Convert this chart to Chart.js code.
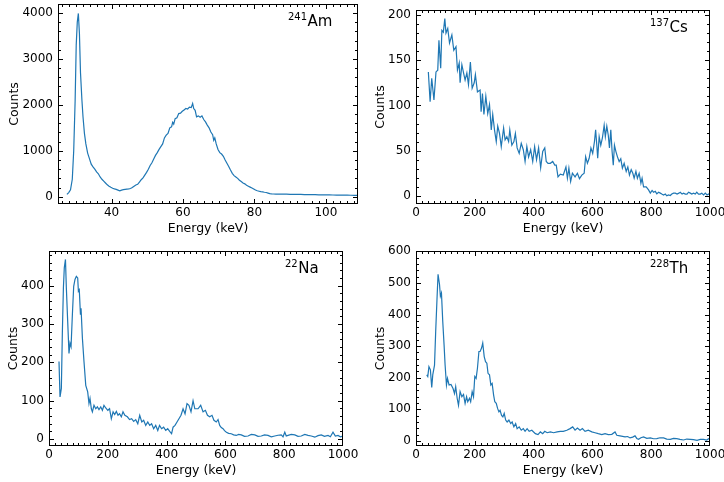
<!DOCTYPE html>
<html>
<head>
<meta charset="utf-8">
<script src="https://cdn.jsdelivr.net/npm/chart.js@4.4.1/dist/chart.umd.min.js"></script>
<style>
  html, body { margin: 0; padding: 0; background: #fff; }
  #wrap { position: relative; width: 724px; height: 482px; overflow: hidden; }
  .panel { position: absolute; width: 362px; height: 241px; }
  canvas { display: block; }
</style>
</head>
<body>
<div id="wrap">
  <div class="panel" style="left:0;top:0"><canvas id="c1" width="362" height="241"></canvas></div>
  <div class="panel" style="left:362px;top:0"><canvas id="c2" width="362" height="241"></canvas></div>
  <div class="panel" style="left:0;top:241px"><canvas id="c3" width="362" height="241"></canvas></div>
  <div class="panel" style="left:362px;top:241px"><canvas id="c4" width="362" height="241"></canvas></div>
</div>
<script>
// ---------------- DATA ----------------
// 241Am spectrum
const amEnergy = [27.5,28.0,28.5,29.0,29.4,29.8,30.1,30.4,30.7,31.0,31.3,31.7,32.0,32.4,32.8,33.3,33.8,34.3,34.8,35.3,35.8,36.3,36.8,37.3,37.8,38.3,38.8,39.3,39.8,40.3,40.8,41.3,41.8,42.3,42.8,43.3,43.8,44.3,44.8,45.3,45.8,46.3,46.8,47.3,47.8,48.3,48.8,49.3,49.8,50.3,50.8,51.3,51.8,52.3,52.8,53.3,53.8,54.3,54.8,55.3,55.8,56.3,56.8,57.1,57.4,57.8,58.3,58.8,59.3,59.8,60.3,60.8,61.3,61.8,62.3,62.7,63.0,63.4,63.8,64.3,64.8,65.3,65.8,66.3,66.8,67.3,67.8,68.3,68.6,68.9,69.3,69.8,70.3,70.8,71.3,71.8,72.3,72.8,73.3,73.8,74.3,74.8,75.3,75.8,76.3,76.8,77.3,77.8,78.3,78.8,79.3,79.8,80.3,80.8,81.3,81.8,82.3,82.8,83.3,83.8,84.3,84.8,85.3,86,87,88,89,90,91,92,93,94,95,96,97,98,99,100,101,102,103,104,105,106,107,108,109];
const amCounts = [50,90,150,380,1000,2100,3300,3800,3990,3550,2700,2100,1740,1380,1150,950,830,710,650,600,540,500,430,380,340,300,260,230,205,185,170,160,145,130,145,155,160,165,170,180,200,230,255,270,320,370,410,470,530,600,680,740,820,900,960,1030,1090,1150,1280,1340,1380,1500,1520,1620,1580,1700,1720,1810,1820,1860,1890,1920,1910,1950,1940,2030,1920,1880,1740,1760,1730,1760,1680,1630,1560,1500,1410,1350,1230,1280,1150,1030,960,930,880,800,730,660,580,510,460,430,400,360,330,300,280,250,230,210,190,170,145,130,120,110,105,98,92,80,68,62,60,58,57,55,55,53,52,50,50,48,47,45,44,42,41,40,39,38,36,35,34,33,32,31,30];

// 137Cs spectrum
const csEnergy = [42,48,53.5,61,68,74,78,84,88,93,98,102,108,114,122,128.5,136,141,147,150,156,161,167,173,178.5,185,191,198,202,209,218,221.5,226,231,237.5,244,250,256,261,267,273,278,284,290,298,303,309,315,319,326,333,338,344,351,358,365,371,377,383,390,397,403.5,410,417,424,431,438,443,449,457,465,472,477,483,491,501,510,515,520,526,532,541,549,556,564,572,577,583,589,595,601,607,611,615,618,623,628.5,634,640,644,649,654,658,662.6,667,671,675,680,685,691,696.5,702,708,715,720.5,726,732,737.5,742,748,753,759,765,769,774,783,791,797,803,808,814,819,825,831,836,842,848,853,859,865,870,876,882,888,894,899,905,910,916,922,927,933,938,944,950,955,961,967,972,978,984,990,995,1000];
const csCounts = [137,104,130,106,137,139,172,141,183,181,196,180,185,169,178,161,165,139,147,125,145,137,128,136,123,148,119,125,134,115,117,93,113,90,110,91,101,73,90,73,60,77,69,54.5,75,62,65.5,60,73,56,60,69,53,47,58,51,38,54.5,43,51,38,54.5,40,53,31,49,53,38,36,36,38,34,34,21,24,23,32,19.5,30.6,15.8,25,21,25,19,23,25,43.4,36,41.6,53,47,60,73,56,41.6,65.5,56,64,78,65.5,77,67,53,73,49,34,56,49,43.4,38,41,30.6,36,27,32,23,29,25,19.5,27,19.5,25,14,19.5,10,10,6.6,3,6,4,5,2.2,4,3,2,1,2,0,1,0.4,2,3,3,2,3,4,2,3,2,2,4,3,2,3,2,4,2,2,3,1,3,1,2,1];

// 22Na spectrum
const naEnergy = [34,37.5,42,45.5,49,52,56,59,63.6,68,71.5,75,79.5,84,88.4,93,97.6,100,103,107,109,113.6,119,125,131.6,136,139.5,144,147.6,153,159,164.5,170,176,181.6,187,193,200,206,212,218,223.5,229,234.7,240,246,251.7,258,266.6,274,281,288,295,302,308.6,315.6,322,329,336,342.5,349,356,363,370,376,383,390,397,403.7,410.5,417,422,428.6,435.4,442,449,456,462.7,469.4,476,483,490,496,507,516,524,532,539,546.6,554.4,561,569,575,580.6,586,592,597,603.4,611,620,628,637,645,654,665,677,688,700,711,722,733,745,756,768,779,790,796,802,807,813,824,836,847,858,870,881,892,904,915,926,937,949,957,966,974,983,991,1000];
const naCounts = [202,110,132,280,394,446,468,394,306,223,250,241,324,398,416,424,420,385,389,324,341,263,202,140,123,92.5,106,79,71,88,79,84,77,84,75,88,81,75,79,53,71,64,72,62,66,58,71,62,58,51,53,46,50.6,40,62,44.5,49,35.6,44.5,35.6,40,27,35.6,22.5,35.6,27,31,22.5,27,20,14,31,35.6,44.5,53,62,79,66,92.5,88,71,100,79,79,88,71,75,62,58,62,49,44.5,51,35.6,30,27,22,18,15,14,11,9.5,12,11,7,8,12,11,7,8,11,9.5,6,8,10,11,6,18,8,9.5,12,11,7,8,12,9.5,8,5,9,11,7,9.5,6,18,8,9.5,6,8];

// 228Th spectrum
const thEnergy = [36.5,40,44,49,53.5,57,63,67,71.6,75,80,83,86.6,91,95.5,99,103.6,107,112.5,119,126,131,135,140,144.5,150,156,161.6,167,172,176,182,186,191,195.6,200,204.5,209,214,218,223,227,232,236.5,241,245,250,254.6,259,264,268,273,277.5,282,286,291,295.5,300,305,310,316,322,327,333,339,344,351,358,365,371,378,385,394,406,415,423,431,438,446,457,468,480,491,501,513,524,533,541,549,558,566,575,586,598,609,620,632,643,654,666,677,683,694,711,720,728,737,745,751,757,765,774,785,797,808,819,830,842,853,865,876,887,898,910,921,933,944,956,967,978,989,995,1000];
const thCounts = [209,204,235,225,169,209,240,347,453,527,495,458,468,378,304,240,177,198,177,179,166,150,172,135,113,156,140,147,119,140,124,135,124,156,140,204,198,230,283,283,294,310,267,251,246,214,209,177,182,145,124,119,103,92,97,81,76,87,66,60,66,55,60,44.5,55,39,44.5,34,39,30.5,39,30.5,34,23,20,28.6,23,30.5,26,28.6,26,28.6,30.5,30.5,34,39,44.5,34,41,34,39,30.5,34,28.6,26,23,20,23,20,21,28.6,18,16,12.7,14,9.5,12,16,8,5,10,12.7,8,9.5,7,7.3,10,9.5,6,5,8,7.3,5,3,6,5,4,2,5,5,3,7,5];

// tick values (labels are these numbers)
const amXTicks = [40, 60, 80, 100];
const amYTicks = [0, 1000, 2000, 3000, 4000];
const keVTicks = [0, 200, 400, 600, 800, 1000];
const csYTicks = [0, 50, 100, 150, 200];
const naYTicks = [0, 100, 200, 300, 400];
const thYTicks = [0, 100, 200, 300, 400, 500, 600];

// ---------------- CHART SETUP ----------------
const FONT = 'DejaVu Sans';
const LINE_COLOR = '#1f77b4';

const framePlugin = {
  id: 'frameTicks',
  afterDraw(chart, args, o) {
    const { ctx, chartArea: a, scales: { x, y } } = chart;
    const L = Math.round(a.left) + 0.5, R = Math.round(a.right) - 0.5;
    const T = Math.round(a.top) + 0.5, B = Math.round(a.bottom) - 0.5;
    ctx.save();
    ctx.strokeStyle = '#000';
    ctx.lineWidth = 1;
    const tick = (vals, len, horiz) => {
      ctx.beginPath();
      vals.forEach(v => {
        if (horiz) {
          const px = Math.round(x.getPixelForValue(v)) + 0.5;
          if (px < L - 0.1 || px > R + 0.1) return;
          ctx.moveTo(px, B); ctx.lineTo(px, B - len);
          ctx.moveTo(px, T); ctx.lineTo(px, T + len);
        } else {
          const py = Math.round(y.getPixelForValue(v)) + 0.5;
          if (py < T - 0.1 || py > B + 0.1) return;
          ctx.moveTo(L, py); ctx.lineTo(L + len, py);
          ctx.moveTo(R, py); ctx.lineTo(R - len, py);
        }
      });
      ctx.stroke();
    };
    const minorVals = (min, max, step) => {
      const out = [];
      for (let v = Math.ceil(min / step) * step; v <= max + 1e-9; v += step) out.push(v);
      return out;
    };
    tick(minorVals(x.min, x.max, o.xMinor), 2.5, true);
    tick(minorVals(y.min, y.max, o.yMinor), 2.5, false);
    tick(x.ticks.map(t => t.value), 4.5, true);
    tick(y.ticks.map(t => t.value), 4.5, false);
    ctx.strokeRect(L, T, R - L, B - T);
    // isotope label
    const lx = a.left + o.labelDx, ly = a.top + 22;
    ctx.fillStyle = '#000';
    ctx.textBaseline = 'alphabetic';
    ctx.textAlign = 'left';
    ctx.font = '10px "' + FONT + '"';
    ctx.fillText(o.sup, lx, ly - 6);
    const w = ctx.measureText(o.sup).width;
    ctx.font = '15px "' + FONT + '"';
    ctx.fillText(o.main, lx + w + 0.5, ly);
    ctx.restore();
  }
};

function makeChart(id, xs, ys, c) {
  const pts = xs.map((v, i) => ({ x: v, y: ys[i] }));
  const tickFont = { family: FONT, size: 12 };
  const titleFont = { family: FONT, size: 12.5 };
  return new Chart(document.getElementById(id), {
    type: 'line',
    data: { datasets: [{ data: pts, borderColor: LINE_COLOR, borderWidth: 1.2, pointRadius: 0, tension: 0, fill: false }] },
    options: {
      responsive: false,
      animation: false,
      devicePixelRatio: 1,
      layout: { padding: { top: c.padTop, right: c.padRight, left: 0, bottom: 0 } },
      plugins: {
        legend: { display: false },
        tooltip: { enabled: false },
        frameTicks: { xMinor: c.xMinor, yMinor: c.yMinor, sup: c.sup, main: c.main, labelDx: c.labelDx }
      },
      scales: {
        x: {
          type: 'linear', min: c.xMin, max: c.xMax,
          afterBuildTicks: s => { s.ticks = c.xTicks.map(v => ({ value: v })); },
          afterFit: s => { s.height = c.xHeight; s.paddingLeft = 0; s.paddingRight = 0; },
          grid: { display: false, drawTicks: false },
          border: { display: false },
          ticks: { color: '#000', font: tickFont, padding: 2, maxRotation: 0, autoSkip: false, callback: v => String(v) },
          title: { display: true, text: 'Energy (keV)', color: '#000', font: titleFont, padding: { top: 0, bottom: c.xTitlePad } }
        },
        y: {
          type: 'linear', min: c.yMin, max: c.yMax,
          afterBuildTicks: s => { s.ticks = c.yTicks.map(v => ({ value: v })); },
          afterFit: s => { s.width = c.yWidth; s.paddingTop = 0; s.paddingBottom = 0; },
          grid: { display: false, drawTicks: false },
          border: { display: false },
          ticks: { color: '#000', font: tickFont, padding: 5, autoSkip: false, callback: v => String(v) },
          title: { display: true, text: 'Counts', color: '#000', font: titleFont, padding: { top: c.yTitlePad, bottom: 0 } }
        }
      }
    },
    plugins: [framePlugin]
  });
}

makeChart('c1', amEnergy, amCounts, {
  xMin: 25, xMax: 109, yMin: -158, yMax: 4195, xTicks: amXTicks, yTicks: amYTicks,
  xMinor: 2, yMinor: 200, yWidth: 58, xHeight: 37, padTop: 4, padRight: 4,
  yTitlePad: 7, xTitlePad: 5, sup: '241', main: 'Am', labelDx: 230
});
makeChart('c2', csEnergy, csCounts, {
  xMin: 0, xMax: 1000, yMin: -9, yMax: 205.5, xTicks: keVTicks, yTicks: csYTicks,
  xMinor: 20, yMinor: 10, yWidth: 54, xHeight: 37, padTop: 10, padRight: 14,
  yTitlePad: 11, xTitlePad: 5, sup: '137', main: 'Cs', labelDx: 234
});
makeChart('c3', naEnergy, naCounts, {
  xMin: 0, xMax: 1000, yMin: -18, yMax: 490, xTicks: keVTicks, yTicks: naYTicks,
  xMinor: 20, yMinor: 20, yWidth: 49, xHeight: 36, padTop: 10, padRight: 19,
  yTitlePad: 6, xTitlePad: 4, sup: '22', main: 'Na', labelDx: 236
});
makeChart('c4', thEnergy, thCounts, {
  xMin: 0, xMax: 1000, yMin: -16, yMax: 601, xTicks: keVTicks, yTicks: thYTicks,
  xMinor: 20, yMinor: 20, yWidth: 54, xHeight: 36, padTop: 10, padRight: 14,
  yTitlePad: 11, xTitlePad: 4, sup: '228', main: 'Th', labelDx: 234
});
</script>
</body>
</html>
